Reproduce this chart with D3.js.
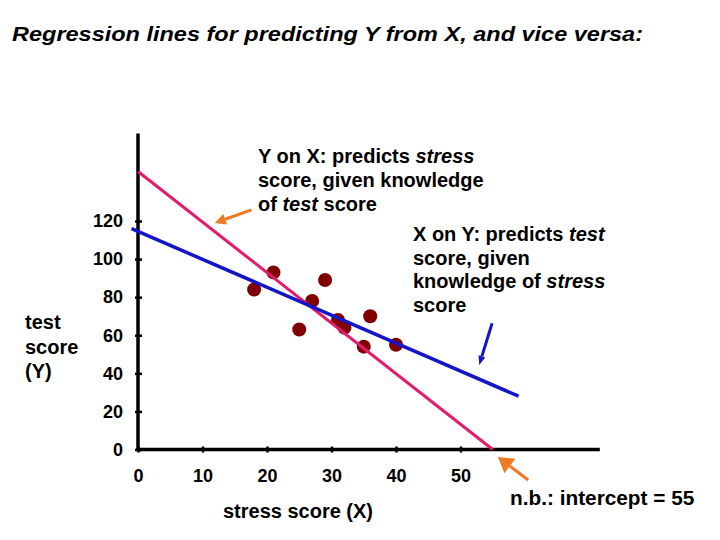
<!DOCTYPE html>
<html>
<head>
<meta charset="utf-8">
<title>Regression lines</title>
<script src="https://cdnjs.cloudflare.com/ajax/libs/d3/7.8.5/d3.min.js"></script>
<style>
  body { margin: 0; background: #fff; }
  text { font-family: "Liberation Sans", Arial, sans-serif; font-weight: bold; fill: #000; }
</style>
</head>
<body>
<div id="chart"></div>
<script>
// data
var stress = [18, 21, 29, 27, 25, 31, 32, 36, 35, 40];
var test   = [84, 93, 89, 78, 63, 68, 64, 70, 54, 55];
var xTicks = [0, 10, 20, 30, 40, 50];
var yTicks = [0, 20, 40, 60, 80, 100, 120];
// regression line end points, in data units
var yOnX = [[0, 146], [55, 0]];
var xOnY = [[-1, 116], [59, 28]];
// arrows [tail, tip], in data units
var arrows = [
  {from: [17.6, 125.8], to: [11.9, 119], color: "#f07a24", head: 11, w: 11},
  {from: [54.9, 66.3], to: [52.9, 44.4], color: "#1414c8", head: 9, w: 7},
  {from: [60.5, -16], to: [55.8, -3.9], color: "#f07a24", head: 15, w: 18}
];

var W = 720, H = 540;
var svg = d3.select("#chart").append("svg")
  .attr("width", W).attr("height", H);

var x = d3.scaleLinear().domain([0, 50]).range([138, 460.5]);
var y = d3.scaleLinear().domain([0, 120]).range([449.5, 221]);

// title
svg.append("text")
  .attr("x", 12).attr("y", 41)
  .attr("textLength", 631).attr("lengthAdjust", "spacingAndGlyphs")
  .style("font-size", "21px").style("font-style", "italic")
  .text("Regression lines for predicting Y from X, and vice versa:");

// axes lines
svg.append("line")
  .attr("x1", x(0)).attr("x2", x(0))
  .attr("y1", y(0) + 1.5).attr("y2", y(166))
  .attr("stroke", "#000").attr("stroke-width", 3.5);
svg.append("line")
  .attr("x1", x(0) - 1.5).attr("x2", x(71.6))
  .attr("y1", y(0)).attr("y2", y(0))
  .attr("stroke", "#000").attr("stroke-width", 3.5);

// x axis
var gx = svg.append("g")
  .attr("transform", "translate(0," + y(0) + ")")
  .call(d3.axisBottom(x).tickValues(xTicks).tickSize(3).tickPadding(17));
gx.select(".domain").remove();
gx.selectAll(".tick line").attr("y1", -3).attr("stroke-width", 2.5);
gx.selectAll(".tick text")
  .style("font-size", "18px").attr("fill", "#000")
  .style("font-family", "Liberation Sans, Arial, sans-serif").style("font-weight", "bold");

// y axis
var gy = svg.append("g")
  .attr("transform", "translate(" + x(0) + ",0)")
  .call(d3.axisLeft(y).tickValues(yTicks).tickSize(3).tickPadding(12));
gy.select(".domain").remove();
gy.selectAll(".tick line").attr("x1", 4).attr("stroke-width", 2.5);
gy.selectAll(".tick text")
  .style("font-size", "18px").attr("fill", "#000")
  .style("font-family", "Liberation Sans, Arial, sans-serif").style("font-weight", "bold");

// points
svg.selectAll("circle.pt")
  .data(stress)
  .enter().append("circle")
  .attr("class", "pt")
  .attr("cx", function(d) { return x(d); })
  .attr("cy", function(d, i) { return y(test[i]); })
  .attr("r", 7)
  .attr("fill", "#800000");

// regression lines
var line = d3.line()
  .x(function(d) { return x(d[0]); })
  .y(function(d) { return y(d[1]); });
svg.append("path").attr("d", line(yOnX))
  .attr("fill", "none").attr("stroke", "#e31a6e").attr("stroke-width", 3);
svg.append("path").attr("d", line(xOnY))
  .attr("fill", "none").attr("stroke", "#1414c8").attr("stroke-width", 3.5);

// arrows
arrows.forEach(function(a) {
  var x1 = x(a.from[0]), y1 = y(a.from[1]), x2 = x(a.to[0]), y2 = y(a.to[1]);
  var ang = Math.atan2(y2 - y1, x2 - x1);
  var bx = x2 - a.head * Math.cos(ang), by = y2 - a.head * Math.sin(ang);
  svg.append("line")
    .attr("x1", x1).attr("y1", y1).attr("x2", bx).attr("y2", by)
    .attr("stroke", a.color).attr("stroke-width", 3);
  var px = -Math.sin(ang) * a.w / 2, py = Math.cos(ang) * a.w / 2;
  svg.append("polygon")
    .attr("points", [[x2, y2], [bx + px, by + py], [bx - px, by - py]].join(" "))
    .attr("fill", a.color);
});

// annotation text
function block(lines, x0, y0, dy) {
  var t = svg.append("text").attr("x", x0).attr("y", y0).style("font-size", "20px");
  lines.forEach(function(parts, i) {
    parts.forEach(function(p, j) {
      var s = t.append("tspan").text(p[0]);
      if (j === 0) s.attr("x", x0).attr("dy", i === 0 ? 0 : dy);
      if (p[1]) s.style("font-style", "italic");
    });
  });
}
block([[["Y on X: predicts "], ["stress", 1]],
       [["score, given knowledge"]],
       [["of "], ["test", 1], [" score"]]], 258, 163, 24);
block([[["X on Y: predicts "], ["test", 1]],
       [["score, given"]],
       [["knowledge of "], ["stress", 1]],
       [["score"]]], 413, 241, 23.7);
block([[["test"]], [["score"]], [["(Y)"]]], 25, 329, 24.5);

svg.append("text")
  .attr("x", 298).attr("y", 518).attr("text-anchor", "middle")
  .style("font-size", "20px")
  .text("stress score (X)");
svg.append("text")
  .attr("x", 510).attr("y", 505)
  .style("font-size", "20.8px")
  .text("n.b.: intercept = 55");
</script>
</body>
</html>
